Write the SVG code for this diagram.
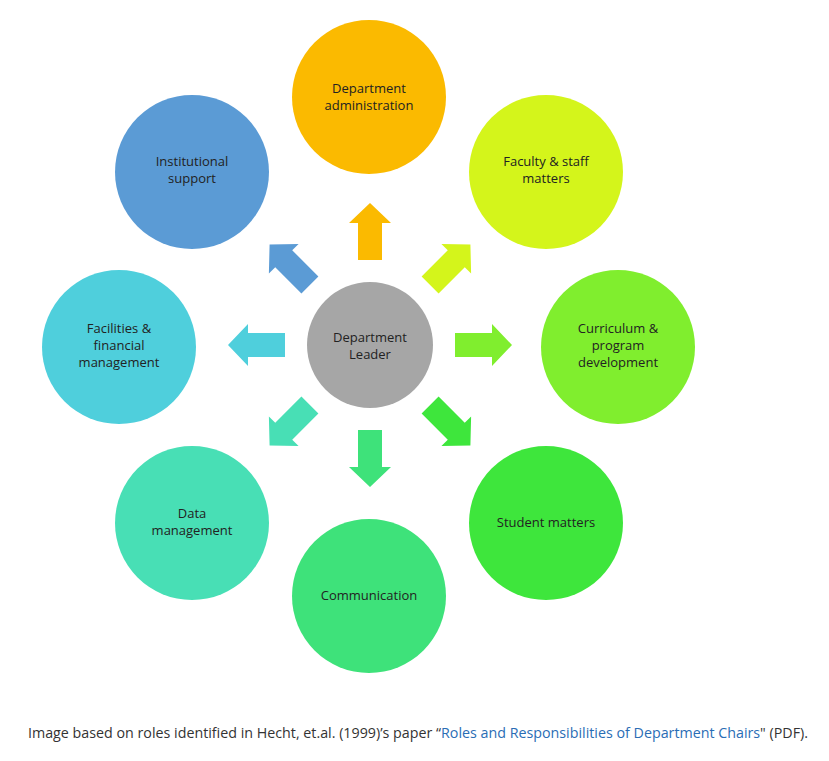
<svg xmlns="http://www.w3.org/2000/svg" width="829" height="761" viewBox="0 0 829 761">
<style>
.l{font-family:"Open Sans","Liberation Sans",sans-serif;font-size:13px;fill:#222;text-anchor:middle}
.c{font-family:"Open Sans","Liberation Sans",sans-serif;font-size:14px;fill:#333}
</style>
<defs><path id="ar" d="M-12,0 V-37 H-21 L0,-57 L21,-37 H12 V0 Z"/></defs>
<rect width="829" height="761" fill="#fff"/>
<g id="connectors">
<use href="#ar" fill="#FBBA00" transform="translate(370,345) rotate(0) translate(0,-85)"/>
<use href="#ar" fill="#D4F51B" transform="translate(370,345) rotate(45) translate(0,-85)"/>
<use href="#ar" fill="#80EE2E" transform="translate(370,345) rotate(90) translate(0,-85)"/>
<use href="#ar" fill="#3EE63C" transform="translate(370,345) rotate(135) translate(0,-85)"/>
<use href="#ar" fill="#3EE27A" transform="translate(370,345) rotate(180) translate(0,-85)"/>
<use href="#ar" fill="#48DFB5" transform="translate(370,345) rotate(225) translate(0,-85)"/>
<use href="#ar" fill="#4FCFDC" transform="translate(370,345) rotate(270) translate(0,-85)"/>
<use href="#ar" fill="#5B9BD5" transform="translate(370,345) rotate(315) translate(0,-85)"/>
</g>
<g id="center"><circle cx="370" cy="345" r="63" fill="#A6A6A6"/><text class="l" x="370" y="342">Department</text><text class="l" x="370" y="359">Leader</text></g>
<g id="admin"><circle cx="369" cy="97" r="77" fill="#FBBA00"/><text class="l" x="369" y="93">Department</text><text class="l" x="369" y="110">administration</text></g>
<g id="faculty"><circle cx="546" cy="172" r="77" fill="#D4F51B"/><text class="l" x="546" y="166">Faculty &amp; staff</text><text class="l" x="546" y="183">matters</text></g>
<g id="curriculum"><circle cx="618" cy="347" r="77" fill="#80EE2E"/><text class="l" x="618" y="333">Curriculum &amp;</text><text class="l" x="618" y="350">program</text><text class="l" x="618" y="367">development</text></g>
<g id="student"><circle cx="546" cy="523" r="77" fill="#3EE63C"/><text class="l" x="546" y="527">Student matters</text></g>
<g id="communication"><circle cx="369" cy="596" r="77" fill="#3EE27A"/><text class="l" x="369" y="600">Communication</text></g>
<g id="data"><circle cx="192" cy="523" r="77" fill="#48DFB5"/><text class="l" x="192" y="518">Data</text><text class="l" x="192" y="535">management</text></g>
<g id="facilities"><circle cx="119" cy="347" r="77" fill="#4FCFDC"/><text class="l" x="119" y="333">Facilities &amp;</text><text class="l" x="119" y="350">financial</text><text class="l" x="119" y="367">management</text></g>
<g id="institutional"><circle cx="192" cy="172" r="77" fill="#5B9BD5"/><text class="l" x="192" y="166">Institutional</text><text class="l" x="192" y="183">support</text></g>
<text class="c" x="28" y="738" textLength="780" lengthAdjust="spacingAndGlyphs">Image based on roles identified in Hecht, et.al. (1999)’s paper “<tspan fill="#2a6db5">Roles and Responsibilities of Department Chairs</tspan>" (PDF).</text>
</svg>
